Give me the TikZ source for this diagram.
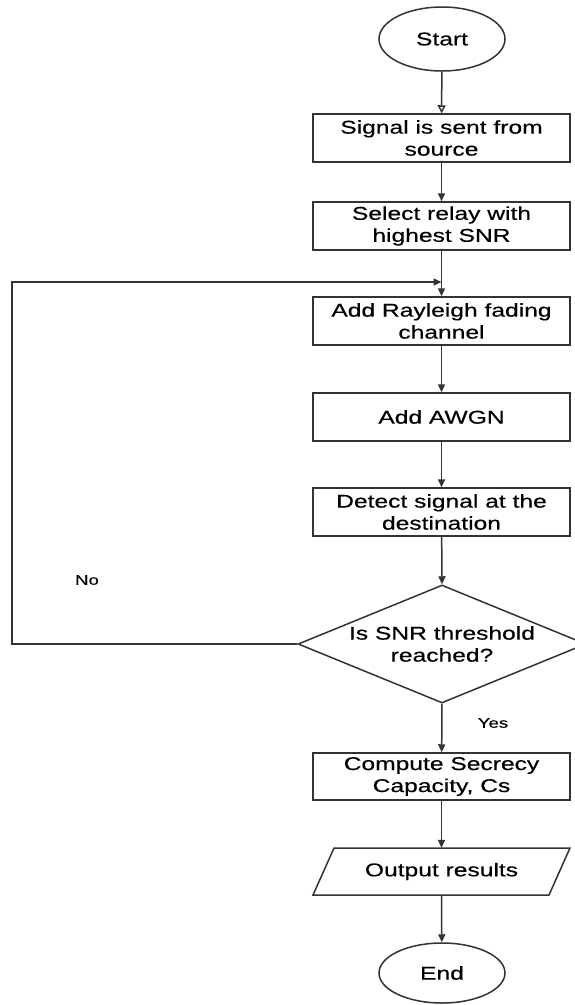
\documentclass[tikz,border=0pt]{standalone}
\usepackage{fontspec}
\setmainfont{Liberation Sans}[FakeStretch=1.33,FakeBold=0.4]
\usetikzlibrary{shapes.geometric,arrows.meta,calc}
\begin{document}
\begin{tikzpicture}[x=1pt,y=-1pt,
  every node/.style={font=\fontsize{18.5}{22}\selectfont, text=black},
  procbox/.style={draw=black!80, line width=1.5pt, rectangle, minimum width=257pt, minimum height=48pt, inner sep=0pt, align=center},
  termnode/.style={draw=black!80, line width=1.5pt, ellipse, minimum width=126pt, minimum height=64pt, inner sep=0pt},
  decnode/.style={draw=black!80, line width=1.5pt, diamond, minimum width=288pt, minimum height=118pt, inner sep=0pt},
  flow/.style={draw=black!80, line width=1.5pt, -{Triangle[length=8pt,width=7pt]}},
  openflow/.style={draw=black!80, line width=1.5pt, -{Triangle[open,length=8pt,width=8pt]}},
  lbl/.style={font=\fontsize{14}{16}\selectfont}
]
\useasboundingbox (0,0) rectangle (575,1005);
\fill[white] (0,0) rectangle (575,1005);

\node[termnode] (start) at (442,39) {Start};
\node[procbox] (sig) at (441.5,138) {Signal is sent from\\source};
\node[procbox] (sel) at (441.5,226) {Select relay with\\highest SNR};
\node[procbox] (ray) at (441.5,321) {Add Rayleigh fading\\channel};
\node[procbox] (awgn) at (441.5,417) {Add AWGN};
\node[procbox] (det) at (441.5,512) {Detect signal at the\\destination};
\node[decnode] (dec) at (442,644) {};
\node[align=center, inner sep=0pt] (dectext) at (dec.center) {Is SNR threshold\\reached?};
\node[procbox, minimum height=47pt] (comp) at (441.5,776.5) {Compute Secrecy\\Capacity, Cs};
\node[rectangle, minimum width=236pt, minimum height=47pt, inner sep=0pt] (out) at (441.5,871.5) {Output results};
\draw[draw=black!80, line width=1.5pt]
  ($(out.center)+(-107.5,-23.5)$) -- ($(out.center)+(128.5,-23.5)$)
  -- ($(out.center)+(107.5,23.5)$) -- ($(out.center)+(-128.5,23.5)$) -- cycle;
\node[termnode, minimum height=60pt] (end) at (442,973) {End};

\node[lbl] (no) at (87,580) {No};
\node[lbl] (yes) at (493,723) {Yes};

\coordinate (lc) at (12,282);
\coordinate (mrg) at (sel.south |- lc);

\draw[openflow] (start) -- (sig);
\draw[flow] (sig) -- (sel);
\draw[flow] (sel) -- (ray);
\draw[flow] (ray) -- (awgn);
\draw[flow] (awgn) -- (det);
\draw[flow] (det) -- (dec.north);
\draw[flow] (dec.south) -- (comp);
\draw[flow] (comp) -- (out.north);
\draw[flow] (out.south) -- (end);
\draw[flow] (dec.west) -| (lc) -- (mrg);
\end{tikzpicture}
\end{document}
